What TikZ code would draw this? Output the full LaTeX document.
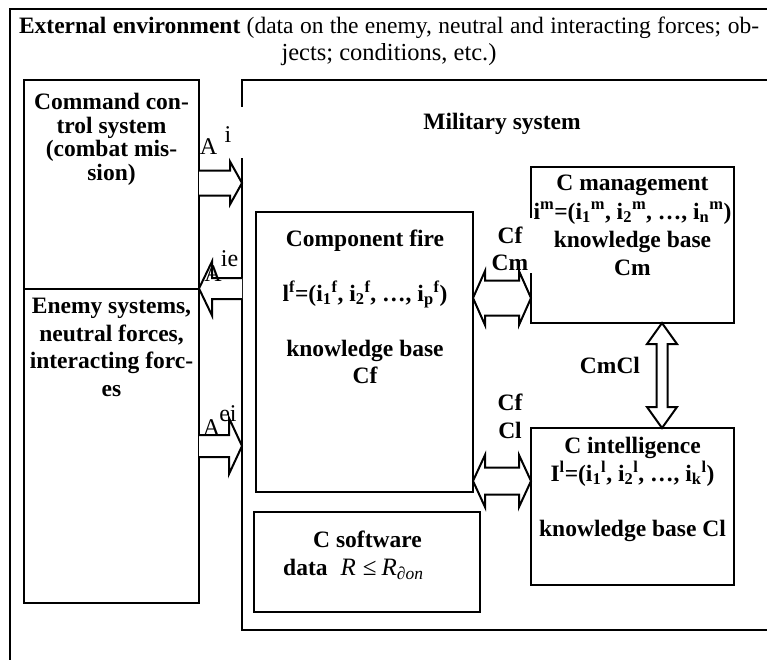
\documentclass[tikz,border=0pt]{standalone}
\usepackage{fontspec}
\setmainfont{Liberation Serif}
\usetikzlibrary{calc}
\newcommand\blkR[5]{\draw[blk] ($(#1)+(0,-#3)$) -- ($(#2)+(-#5,-#3)$) -- ($(#2)+(-#5,-#4)$) -- (#2) -- ($(#2)+(-#5,#4)$) -- ($(#2)+(-#5,#3)$) -- ($(#1)+(0,#3)$);}
\newcommand\blkL[5]{\draw[blk] ($(#1)+(0,-#3)$) -- ($(#2)+(#5,-#3)$) -- ($(#2)+(#5,-#4)$) -- (#2) -- ($(#2)+(#5,#4)$) -- ($(#2)+(#5,#3)$) -- ($(#1)+(0,#3)$);}
\newcommand\dblH[5]{\draw[blk] (#1) -- ($(#1)+(#5,-#4)$) -- ($(#1)+(#5,-#3)$) -- ($(#2)+(-#5,-#3)$) -- ($(#2)+(-#5,-#4)$) -- (#2) -- ($(#2)+(-#5,#4)$) -- ($(#2)+(-#5,#3)$) -- ($(#1)+(#5,#3)$) -- ($(#1)+(#5,#4)$) -- cycle;}
\newcommand\dblV[5]{\draw[blk] (#1) -- ($(#1)+(#4,#5)$) -- ($(#1)+(#3,#5)$) -- ($(#2)+(#3,-#5)$) -- ($(#2)+(#4,-#5)$) -- (#2) -- ($(#2)+(-#4,-#5)$) -- ($(#2)+(-#3,-#5)$) -- ($(#1)+(-#3,#5)$) -- ($(#1)+(-#4,#5)$) -- cycle;}
\begin{document}
\begin{tikzpicture}[x=1pt,y=-1pt,
 box/.style={draw,line width=2pt,inner sep=0pt,outer sep=0pt,anchor=north west},
 blk/.style={draw,line width=2pt,fill=white,line join=miter,miter limit=10},
 bt/.style={inner sep=0pt,align=center,font=\bfseries\fontsize{23.5}{#1}\selectfont},
 bt/.default=27.5,
 rt/.style={inner sep=0pt,font=\fontsize{24}{27}\selectfont},
 patch/.style={fill=white,inner sep=0pt,outer sep=0pt,anchor=north west}]
\useasboundingbox (0,0) rectangle (767,659);
% frames and boxes
\node[box,line width=1.5pt,minimum width=820pt,minimum height=720pt] (env) at (10,9) {};
\node[box,minimum width=600pt,minimum height=550pt] (mil) at (242,80) {};
\node[box,minimum width=175pt,minimum height=209pt] (cmd) at (24,80) {};
\node[box,minimum width=175pt,minimum height=314pt] (enemy) at (24,289) {};
\node[box,minimum width=217pt,minimum height=280pt] (fire) at (256,212) {};
\node[box,minimum width=203pt,minimum height=156pt] (mgmt) at (531,167) {};
\node[box,minimum width=203pt,minimum height=157pt] (intel) at (531,428) {};
\node[box,minimum width=226pt,minimum height=100pt] (soft) at (254,512) {};
% white backgrounds of label boxes
\node[patch,minimum width=42pt,minimum height=51pt] (aibg) at (201,107) {};
\node[patch,minimum width=44pt,minimum height=55pt] (cmbg) at (489,218) {};
% block arrows
\coordinate (aiS) at (199,183); \coordinate (aiT) at (242,183);
\blkR{aiS}{aiT}{12.5}{21.5}{12}
\coordinate (ieS) at (242,288.5); \coordinate (ieT) at (199,288.5);
\blkL{ieS}{ieT}{10.5}{27}{13}
\coordinate (eiS) at (199,446); \coordinate (eiT) at (242,446);
\blkR{eiS}{eiT}{11}{28}{13}
\coordinate (fmL) at (473,298); \coordinate (fmR) at (531,298);
\dblH{fmL}{fmR}{17.5}{27}{12}
\coordinate (flL) at (473,481); \coordinate (flR) at (531,481);
\dblH{flL}{flR}{13.5}{26}{12}
\coordinate (mlT) at (662,323); \coordinate (mlB) at (662,428);
\dblV{mlT}{mlB}{5.5}{15}{21}
% texts
\node[inner sep=0pt,align=center,font=\fontsize{23.5}{27}\selectfont] (title) at (389,41.5) {\makebox[740pt][s]{\textbf{External environment} (data on the enemy, neutral and interacting forces; ob-}\\[0pt]{\fontsize{24.5}{27}\selectfont jects; conditions, etc.)}};
\node[bt=23.5] (cmdT) at (111.5,139.5) {Command con-\\trol system\\(combat mis-\\sion)};
\node[bt=27.7] (enT) at (111.5,347.5) {Enemy systems,\\neutral forces,\\interacting forc-\\es};
\node[bt] (milT) at (502,124) {Military system};
\node[bt=27.5] (fireT) at (365,306.75) {Component fire\\[27.5pt]l\textsuperscript{f}=(i\textsubscript{1}\textsuperscript{f}, i\textsubscript{2}\textsuperscript{f}, …, i\textsubscript{p}\textsuperscript{f})\\[27.5pt]knowledge base\\Cf};
\node[bt=28.3] (mgT) at (632.5,225.5) {C management\\i\textsuperscript{m}=(i\textsubscript{1}\textsuperscript{m}, i\textsubscript{2}\textsuperscript{m}, …, i\textsubscript{n}\textsuperscript{m})\\knowledge base\\Cm};
\node[bt=27.7] (inT) at (632.5,489.5) {C intelligence\\I\textsuperscript{l}=(i\textsubscript{1}\textsuperscript{l}, i\textsubscript{2}\textsuperscript{l}, …, i\textsubscript{k}\textsuperscript{l})\\[27.7pt]knowledge base Cl};
\node[bt,anchor=base] (swT) at (367.5,547) {C software};
\node[bt,anchor=base west] (swD) at (283,575) {data\hspace{13pt}{\mdseries\fontsize{25}{29}\selectfont\textit{R}\hspace{7pt}≤\hspace{5pt}\textit{R}\textsubscript{\textit{∂on}}}};
\node[bt=27] (cfcm) at (510,248.5) {Cf\\Cm};
\node[bt=28] (cfcl) at (510,416) {Cf\\Cl};
\node[bt] (cmcl) at (610,365) {CmCl};
\node[rt] (aiA) at (208.5,147) {A};
\node[rt] (aiI) at (228,135) {i};
\node[rt] (ieA) at (213,274) {A};
\node[rt] (ieI) at (229.5,259) {ie};
\node[rt] (eiA) at (211.5,428) {A};
\node[rt] (eiI) at (228,414) {ei};
\end{tikzpicture}
\end{document}
